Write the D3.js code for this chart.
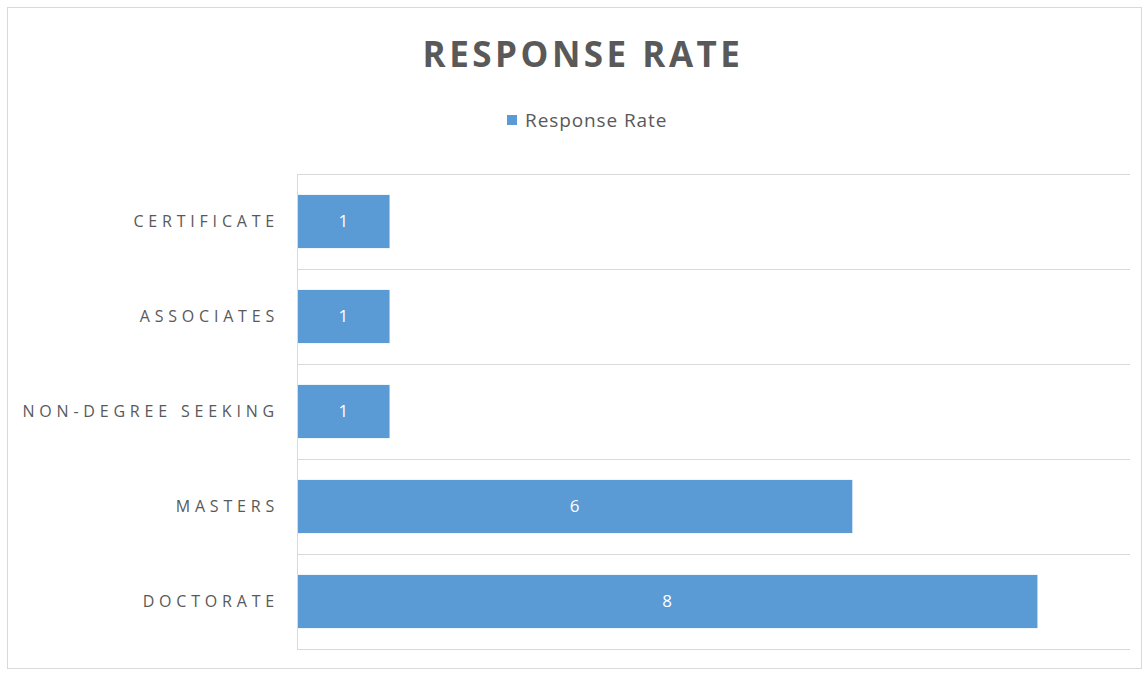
<!DOCTYPE html>
<meta charset="utf-8">
<style>
  body { margin: 0; background: #fff; }
  text { font-family: "Open Sans", "Noto Sans", sans-serif; }
</style>
<body>
<script src="https://cdnjs.cloudflare.com/ajax/libs/d3/7.8.5/d3.min.js"></script>
<script>

var categories = ["CERTIFICATE", "ASSOCIATES", "NON-DEGREE SEEKING", "MASTERS", "DOCTORATE"];
var values = [1, 1, 1, 6, 8];
var seriesName = "Response Rate";

var width = 1145,
    height = 673;

var svg = d3.select("body").append("svg")
    .attr("width", width)
    .attr("height", height);

// outer chart frame
svg.append("rect")
    .attr("x", 7.5).attr("y", 7.5)
    .attr("width", 1134).attr("height", 661)
    .attr("fill", "#fff")
    .attr("stroke", "#d9d9d9");

var plotLeft = 297, plotRight = 1130, plotTop = 174, plotBottom = 649;

var x = d3.scaleLinear().domain([0, 9]).range([plotLeft, plotRight]);
var y = d3.scaleBand().domain(categories).range([plotTop, plotBottom])
    .paddingInner(0.44).paddingOuter(0.22);

// gridlines between categories
var edges = categories.map(function(c) { return y(c) - y.step() * y.paddingInner() / 2; });
edges.push(plotBottom);
edges[0] = plotTop;
svg.append("g").selectAll("line")
    .data(edges)
    .enter().append("line")
      .attr("x1", plotLeft).attr("x2", plotRight)
      .attr("y1", function(d) { return Math.round(d) + 0.5; })
      .attr("y2", function(d) { return Math.round(d) + 0.5; })
      .attr("stroke", "#d9d9d9");

svg.append("line")
    .attr("x1", plotLeft + 0.5).attr("x2", plotLeft + 0.5)
    .attr("y1", plotTop).attr("y2", plotBottom)
    .attr("stroke", "#d9d9d9");

svg.append("g").selectAll("rect")
    .data(values)
    .enter().append("rect")
      .attr("x", x(0) + 1)
      .attr("y", function(d, i) { return y(categories[i]); })
      .attr("width", function(d) { return x(d) - x(0) - 1; })
      .attr("height", y.bandwidth())
      .attr("fill", "#5b9bd5");

svg.append("g").selectAll("text")
    .data(values)
    .enter().append("text")
      .attr("x", function(d) { return (x(0) + x(d)) / 2; })
      .attr("y", function(d, i) { return y(categories[i]) + y.bandwidth() / 2; })
      .attr("dy", "0.35em")
      .attr("text-anchor", "middle")
      .attr("fill", "#fff")
      .style("font-size", "17px")
      .text(function(d) { return d; });

// category labels (trailing letter-spacing pushes anchor right)
svg.append("g").selectAll("text")
    .data(categories)
    .enter().append("text")
      .attr("x", 279)
      .attr("y", function(d) { return y(d) + y.bandwidth() / 2; })
      .attr("dy", "0.35em")
      .attr("text-anchor", "end")
      .attr("fill", "#595959")
      .style("font-size", "16px")
      .style("letter-spacing", "4.8px")
      .text(function(d) { return d; });

svg.append("text")
    .attr("x", 583).attr("y", 67)
    .attr("text-anchor", "middle")
    .attr("fill", "#595959")
    .style("font-size", "35px")
    .style("font-weight", "bold")
    .style("letter-spacing", "3.5px")
    .text("RESPONSE RATE");

var legend = svg.append("g").attr("transform", "translate(507,115)");
legend.append("rect")
    .attr("width", 10).attr("height", 10)
    .attr("fill", "#5b9bd5");
legend.append("text")
    .attr("x", 18).attr("y", 5)
    .attr("dy", "0.35em")
    .attr("fill", "#595959")
    .style("font-size", "19px")
    .style("letter-spacing", "0.9px")
    .text(seriesName);

</script>
</body>
